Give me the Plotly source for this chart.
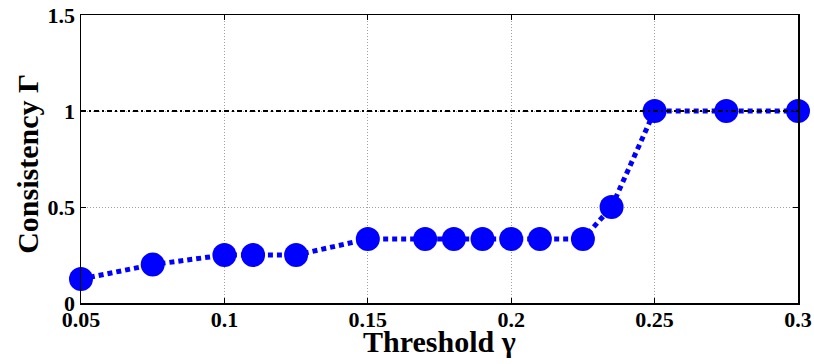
import plotly.graph_objects as go

thresholds = [0.05, 0.075, 0.1, 0.11, 0.125, 0.15, 0.17, 0.18, 0.19, 0.2, 0.21, 0.225, 0.235, 0.25, 0.275, 0.3]
consistency = [0.125, 0.2, 0.25, 0.25, 0.25, 1/3, 1/3, 1/3, 1/3, 1/3, 1/3, 1/3, 0.5, 1, 1, 1]
ref_x = [0.05, 0.3]
ref_y = [1, 1]
x_ticks = [0.05, 0.1, 0.15, 0.2, 0.25, 0.3]
x_tick_labels = ["0.05", "0.1", "0.15", "0.2", "0.25", "0.3"]
y_ticks = [0, 0.5, 1, 1.5]
y_tick_labels = ["0", "0.5", "1", "1.5"]

FONT = "Liberation Serif, Times New Roman, serif"

fig = go.Figure()
fig.add_trace(go.Scatter(
    x=thresholds, y=consistency, mode="lines+markers",
    line=dict(color="#0000FF", width=5, dash="5px,4px"),
    marker=dict(color="#0000FF", size=24, line=dict(width=0)),
    showlegend=False, cliponaxis=False,
))
fig.add_trace(go.Scatter(
    x=ref_x, y=ref_y, mode="lines",
    line=dict(color="black", width=2, dash="5px,3px,2px,3px"),
    showlegend=False, cliponaxis=False,
))

axis_common = dict(
    showline=True, linecolor="black", linewidth=1.5, mirror="allticks",
    ticks="inside", ticklen=5, tickcolor="black", tickwidth=1,
    showgrid=True, gridcolor="#a0a0a0", gridwidth=1, griddash="1px,2px",
    zeroline=False, automargin=False, ticklabeloverflow="allow",
    tickfont=dict(family=FONT, size=22, color="black", weight="bold"),
)

fig.update_xaxes(range=[0.05, 0.3], tickvals=x_ticks, ticktext=x_tick_labels,
                 ticklabelstandoff=-4, **axis_common)
fig.update_yaxes(range=[0, 1.5], tickvals=y_ticks, ticktext=y_tick_labels, **axis_common)

title_font = dict(family=FONT, size=30, color="black", weight="bold")
fig.add_annotation(
    text="Threshold γ", xref="paper", yref="paper", x=0.5, y=-0.134,
    xanchor="center", yanchor="middle", showarrow=False, font=title_font,
)
fig.add_annotation(
    text="Consistency Γ", xref="paper", yref="paper", x=-0.074, y=0.483,
    xanchor="center", yanchor="middle", textangle=-90, showarrow=False, font=title_font,
)

fig.update_layout(
    width=814, height=364,
    margin=dict(l=81, r=16, t=15, b=61),
    plot_bgcolor="white", paper_bgcolor="white",
    hovermode=False,
)

# remove the browser's default 8px body margin so the figure sits at the window origin
fig.write_html(
    "out.html",
    config={"displayModeBar": False, "staticPlot": True},
    post_script="document.body.style.margin='0';document.body.style.overflow='hidden';",
)
